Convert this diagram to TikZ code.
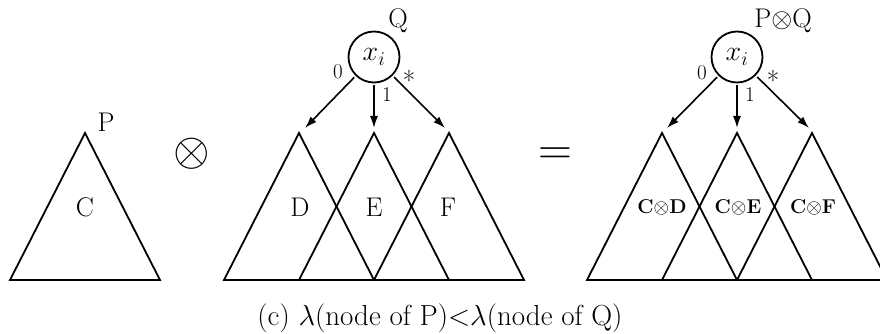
\RequirePackage{fix-cm}
\documentclass[tikz,border=0pt]{standalone}
\usepackage{amsmath,amssymb}
\usetikzlibrary{arrows.meta}

\begin{document}
\begin{tikzpicture}[
  x=1pt,y=-1pt,
  tree/.style={draw=black, line width=1.8pt, line join=miter},
  varnode/.style={draw=black, circle, line width=1.8pt, minimum size=51pt, inner sep=0pt, font=\fontsize{28}{30}\selectfont},
  branch/.style={-{Latex[length=12pt,width=8pt]}, draw=black, line width=1.6pt, shorten <=2pt},
  edgelabel/.style={font=\fontsize{21}{23}\selectfont, inner sep=0pt},
  starlabel/.style={font=\fontsize{27}{29}\selectfont, inner sep=0pt},
  treelabel/.style={font=\fontsize{27}{29}\selectfont, inner sep=0pt},
  prodlabel/.style={font=\fontsize{20}{22}\selectfont\bfseries, inner sep=0pt},
  oplabel/.style={font=\fontsize{47}{50}\selectfont, inner sep=0pt},
  caption/.style={font=\fontsize{29}{31}\selectfont, inner sep=0pt}
]
  \useasboundingbox (0,0) rectangle (880,334);

  % P
  \draw[tree] (10,280) -- (85,133) -- (160,280) -- cycle;
  \node[treelabel] (p) at (106,122) {P};
  \node[treelabel] (c) at (85,207) {C};

  \node[oplabel] (times) at (192,154) {$\otimes$};

  % Q
  \draw[tree] (224,280) -- (299,133) -- (374,280) -- cycle;
  \draw[tree] (299,280) -- (374,133) -- (449,280) -- cycle;
  \draw[tree] (374,280) -- (449,133) -- (524,280) -- cycle;
  \node[treelabel] (d) at (300,207) {D};
  \node[treelabel] (e) at (374,207) {E};
  \node[treelabel] (f) at (448,207) {F};

  \node[varnode] (xq) at (374,57) {$x_i$};
  \node[treelabel] (q) at (398,21) {Q};
  \coordinate (qd) at (305,128);
  \coordinate (qe) at (374,128);
  \coordinate (qf) at (445,128);
  \draw[branch] (xq) -- (qd);
  \draw[branch] (xq) -- (qe);
  \draw[branch] (xq) -- (qf);
  \node[edgelabel] (q0) at (338,72) {0};
  \node[edgelabel] (q1) at (387,95) {1};
  \node[starlabel] (qs) at (409,80) {*};

  \node[oplabel] (eq) at (555,156) {$=$};

  % P x Q
  \draw[tree] (587,280) -- (662,133) -- (737,280) -- cycle;
  \draw[tree] (662,280) -- (737,133) -- (812,280) -- cycle;
  \draw[tree] (737,280) -- (812,133) -- (887,280) -- cycle;
  \node[prodlabel] (cd) at (662,207) {C$\otimes$D};
  \node[prodlabel] (ce) at (738,207) {C$\otimes$E};
  \node[prodlabel] (cf) at (813,207) {C$\otimes$F};

  \node[varnode] (xpq) at (737,57) {$x_i$};
  \node[treelabel] (pq) at (783,21) {P$\otimes$Q};
  \coordinate (pqd) at (667,128);
  \coordinate (pqe) at (737,128);
  \coordinate (pqf) at (809,128);
  \draw[branch] (xpq) -- (pqd);
  \draw[branch] (xpq) -- (pqe);
  \draw[branch] (xpq) -- (pqf);
  \node[edgelabel] (pq0) at (702,73) {0};
  \node[edgelabel] (pq1) at (750,95) {1};
  \node[starlabel] (pqs) at (773,80) {*};

  \node[caption] (cap) at (440,318) {(c) $\lambda$(node of P)$<$$\lambda$(node of Q)};
\end{tikzpicture}
\end{document}
